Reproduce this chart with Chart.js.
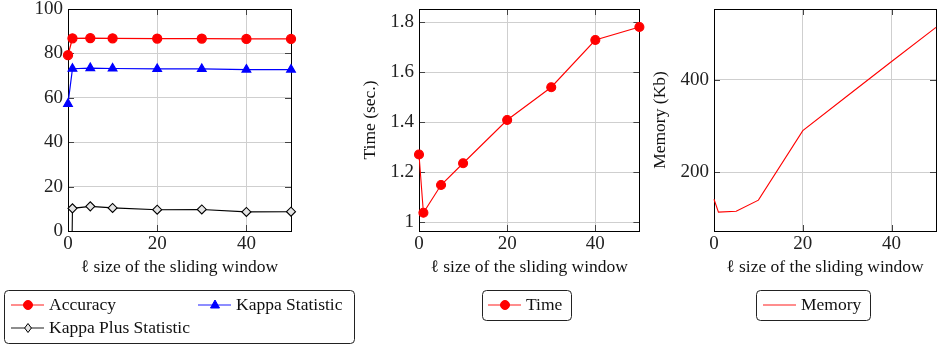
<!DOCTYPE html>
<html>
<head>
<meta charset="utf-8">
<script src="https://cdn.jsdelivr.net/npm/chart.js@4.4.1/dist/chart.umd.min.js"></script>
<style>
  body { margin: 0; background: #fff; width: 938px; height: 347px; position: relative; overflow: hidden; }
  canvas { position: absolute; top: 0; }
</style>
</head>
<body>
<canvas id="qualityChart" width="360" height="347" style="left:0"></canvas>
<canvas id="timeChart" width="290" height="347" style="left:355px"></canvas>
<canvas id="memoryChart" width="293" height="347" style="left:645px"></canvas>
<script>
// sliding window sizes (x axis of all three plots)
const windowSizes = [0, 1, 5, 10, 20, 30, 40, 50];

const accuracy   = [79.2, 86.8, 86.9, 86.8, 86.7, 86.7, 86.5, 86.5];
const kappa      = [57.3, 73.1, 73.4, 73.2, 73.0, 73.0, 72.7, 72.7];
const kappaPlus  = [-150, 10.2, 11.1, 10.4, 9.6, 9.7, 8.6, 8.7];
const timeSec    = [1.27, 1.037, 1.148, 1.235, 1.408, 1.539, 1.728, 1.78];
const memoryKb   = [141, 113, 115, 139, 290, 365, 440, 514];

const xTicks       = [0, 20, 40];
const qualityTicks = [0, 20, 40, 60, 80, 100];
const timeTicks    = [1, 1.2, 1.4, 1.6, 1.8];
const memoryTicks  = [200, 400];

const xTitle = "ℓ size of the sliding window";

const SERIF = "'Liberation Serif', 'DejaVu Serif', serif";
Chart.defaults.font.family = SERIF;
Chart.defaults.color = "#222";

const toPoints = ys => windowSizes.map((x, i) => ({ x: x, y: ys[i] }));

// plot frame plus the small inward tick marks on all four sides
const framePlugin = {
  id: "frame",
  beforeDatasetsDraw(chart) {
    const { ctx, chartArea: a, scales: { x, y } } = chart;
    const tl = 6;
    ctx.save();
    ctx.strokeStyle = "#444";
    ctx.lineWidth = 1;
    ctx.beginPath();
    x.ticks.forEach(t => {
      const px = Math.round(x.getPixelForValue(t.value)) + 0.5;
      ctx.moveTo(px, a.bottom); ctx.lineTo(px, a.bottom - tl);
      ctx.moveTo(px, a.top); ctx.lineTo(px, a.top + tl);
    });
    y.ticks.forEach(t => {
      const py = Math.round(y.getPixelForValue(t.value)) + 0.5;
      ctx.moveTo(a.left, py); ctx.lineTo(a.left + tl, py);
      ctx.moveTo(a.right, py); ctx.lineTo(a.right - tl, py);
    });
    ctx.stroke();
    ctx.strokeStyle = "#000";
    ctx.strokeRect(Math.round(a.left) + 0.5, Math.round(a.top) + 0.5,
      Math.round(a.right - a.left), Math.round(a.bottom - a.top));
    ctx.restore();
  }
};

function drawMarker(ctx, ds, cx, cy) {
  const r = ds.pointRadius;
  if (!r) return;
  ctx.fillStyle = ds.pointBackgroundColor;
  ctx.strokeStyle = ds.pointBorderColor;
  ctx.lineWidth = 1;
  ctx.beginPath();
  if (ds.pointStyle === "triangle") {
    ctx.moveTo(cx, cy - r);
    ctx.lineTo(cx + r * 0.9, cy + r * 0.6);
    ctx.lineTo(cx - r * 0.9, cy + r * 0.6);
    ctx.closePath();
  } else if (ds.pointStyle === "rectRot") {
    ctx.moveTo(cx, cy - r);
    ctx.lineTo(cx + r * 0.75, cy);
    ctx.lineTo(cx, cy + r);
    ctx.lineTo(cx - r * 0.75, cy);
    ctx.closePath();
  } else {
    ctx.arc(cx, cy, r, 0, Math.PI * 2);
  }
  ctx.fill();
  ctx.stroke();
}

// framed legend under each plot
const boxLegendPlugin = {
  id: "boxLegend",
  afterDraw(chart, args, opts) {
    const { ctx } = chart;
    const b = opts.box;
    ctx.save();
    ctx.strokeStyle = "#222";
    ctx.lineWidth = 1;
    ctx.beginPath();
    ctx.roundRect(b.x + 0.5, b.y + 0.5, b.w, b.h, 4);
    ctx.stroke();
    ctx.font = "17.5px " + SERIF;
    ctx.textBaseline = "alphabetic";
    opts.items.forEach(it => {
      const ds = chart.data.datasets[it.index];
      ctx.strokeStyle = ds.legendLine;
      ctx.lineWidth = 1.3;
      ctx.beginPath();
      ctx.moveTo(it.x, it.y);
      ctx.lineTo(it.x + 33, it.y);
      ctx.stroke();
      drawMarker(ctx, ds, it.x + 17, it.y);
      ctx.fillStyle = "#111";
      ctx.fillText(ds.label, it.x + 38, it.y + 4.5);
    });
    ctx.restore();
  }
};

const edgeClip = { left: 10, right: 10, top: 10, bottom: 0 };

function makeOptions(cfg) {
  return {
    responsive: false,
    animation: false,
    events: [],
    layout: { padding: cfg.padding },
    plugins: {
      legend: { display: false },
      tooltip: { enabled: false },
      boxLegend: cfg.legend
    },
    scales: {
      x: {
        type: "linear",
        min: 0,
        max: 50,
        afterBuildTicks: s => { s.ticks = xTicks.map(v => ({ value: v })); },
        afterFit: s => { s.height = 47; s.paddingLeft = 0; s.paddingRight = 0; },
        ticks: { font: { family: SERIF, size: 19 }, padding: 2, color: "#222", callback: v => String(v) },
        grid: { color: "#cfcfcf", drawTicks: false },
        border: { display: false },
        title: { display: true, text: xTitle, font: { family: SERIF, size: 17.5 }, color: "#111", padding: 0 }
      },
      y: {
        min: cfg.yMin,
        max: cfg.yMax,
        afterBuildTicks: s => { s.ticks = cfg.yTicks.map(v => ({ value: v })); },
        afterFit: s => { s.width = cfg.yWidth; s.paddingTop = 0; s.paddingBottom = 0; },
        ticks: { font: { family: SERIF, size: 19 }, padding: 5, color: "#222", callback: v => String(v) },
        grid: { color: "#cfcfcf", drawTicks: false },
        border: { display: false },
        title: cfg.yTitle
          ? { display: true, text: cfg.yTitle, font: { family: SERIF, size: 17.5 }, color: "#111", padding: { top: cfg.yTitlePad, bottom: 0 } }
          : { display: false }
      }
    }
  };
}

new Chart(document.getElementById("qualityChart"), {
  type: "line",
  data: {
    datasets: [
      {
        label: "Accuracy",
        data: toPoints(accuracy),
        borderColor: "#ff0000", borderWidth: 1.3, legendLine: "rgba(255,0,0,0.6)",
        pointStyle: "circle", pointRadius: 4.5,
        pointBackgroundColor: "#ff0000", pointBorderColor: "#ff0000",
        clip: edgeClip
      },
      {
        label: "Kappa Statistic",
        data: toPoints(kappa),
        borderColor: "#0000ff", borderWidth: 1.2, legendLine: "rgba(0,0,255,0.6)",
        pointStyle: "triangle", pointRadius: 5,
        pointBackgroundColor: "#0000ff", pointBorderColor: "#0000ff",
        clip: edgeClip
      },
      {
        label: "Kappa Plus Statistic",
        data: toPoints(kappaPlus),
        borderColor: "#000", borderWidth: 1.1, legendLine: "rgba(0,0,0,0.6)",
        pointStyle: "rectRot", pointRadius: 4.5,
        pointBackgroundColor: "#e4e4e4", pointBorderColor: "#000",
        clip: edgeClip
      }
    ]
  },
  options: makeOptions({
    padding: { left: 0, right: 69, top: 9, bottom: 69 },
    yMin: 0, yMax: 100, yTicks: qualityTicks, yWidth: 68,
    legend: {
      box: { x: 4, y: 290, w: 350, h: 53 },
      items: [
        { index: 0, x: 11, y: 305 },
        { index: 1, x: 198, y: 305 },
        { index: 2, x: 11, y: 328 }
      ]
    }
  }),
  plugins: [framePlugin, boxLegendPlugin]
});

new Chart(document.getElementById("timeChart"), {
  type: "line",
  data: {
    datasets: [
      {
        label: "Time",
        data: toPoints(timeSec),
        borderColor: "#ff0000", borderWidth: 1.1, legendLine: "rgba(255,0,0,0.6)",
        pointStyle: "circle", pointRadius: 4.5,
        pointBackgroundColor: "#ff0000", pointBorderColor: "#ff0000",
        clip: edgeClip
      }
    ]
  },
  options: makeOptions({
    padding: { left: 0, right: 4, top: 9, bottom: 69 },
    yMin: 0.964, yMax: 1.852, yTicks: timeTicks, yWidth: 64,
    yTitle: "Time (sec.)", yTitlePad: 5,
    legend: {
      box: { x: 127, y: 290, w: 89, h: 30 },
      items: [{ index: 0, x: 133, y: 305 }]
    }
  }),
  plugins: [framePlugin, boxLegendPlugin]
});

new Chart(document.getElementById("memoryChart"), {
  type: "line",
  data: {
    datasets: [
      {
        label: "Memory",
        data: toPoints(memoryKb),
        borderColor: "#ff0000", borderWidth: 1.1, legendLine: "rgba(255,0,0,0.6)",
        pointRadius: 0,
        clip: edgeClip
      }
    ]
  },
  options: makeOptions({
    padding: { left: 0, right: 2, top: 9, bottom: 69 },
    yMin: 72, yMax: 554, yTicks: memoryTicks, yWidth: 69,
    yTitle: "Memory (Kb)", yTitlePad: 4.5,
    legend: {
      box: { x: 111, y: 290, w: 114, h: 30 },
      items: [{ index: 0, x: 118, y: 305 }]
    }
  }),
  plugins: [framePlugin, boxLegendPlugin]
});
</script>
</body>
</html>
